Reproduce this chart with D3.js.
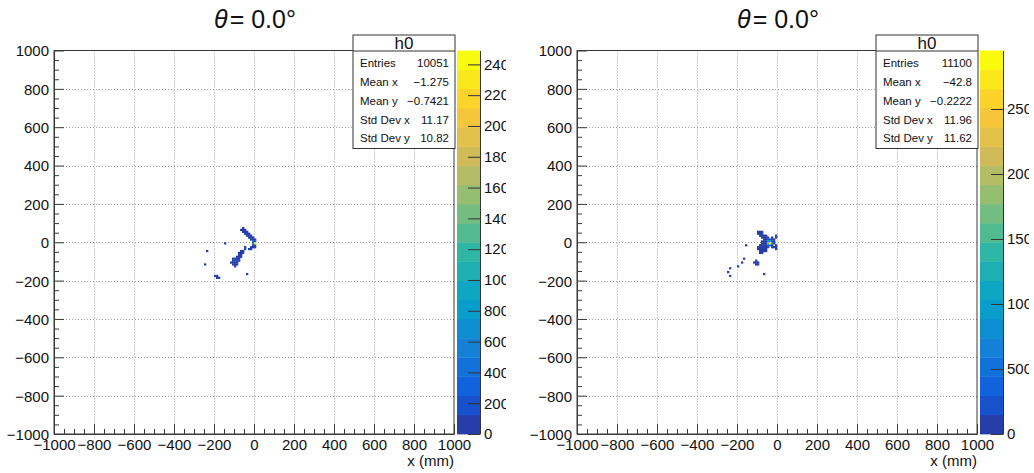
<!DOCTYPE html>
<html>
<head>
<meta charset="utf-8">
<script src="https://cdn.jsdelivr.net/npm/d3@7"></script>
<style>
  html, body { margin: 0; padding: 0; background: #fff; }
  svg { display: block; font-family: "Liberation Sans", Arial, Helvetica, sans-serif; }
</style>
</head>
<body>
<svg id="chart" width="1034" height="473"></svg>
<script>
// ---- histogram contents (10 mm bins, lower-left bin edges in mm) ----
const leftBinX = [-70,-60,-60,-50,-50,-40,-40,-30,-20,-30,-20,-10,-10,-10,0,0,-10,-10,0,-10,-20,-20,-30,-50,-50,
  -60,-60,-70,-70,-80,-70,-80,-90,-80,-90,-100,-110,-100,-90,-80,-110,-100,-90,-110,-100,-100,
  -240,-250,-150,-40,-200,-190,-190,-180,
  -60,-50,-40,-30,-20,0,0,-70,-80,-90,-120,-110];
const leftBinY = [60,60,50,50,40,40,30,30,20,20,10,10,20,0,0,-10,-10,-20,-20,-30,-30,-40,-40,-40,-30,
  -50,-60,-60,-70,-70,-80,-80,-80,-90,-90,-90,-100,-100,-100,-100,-110,-110,-110,-120,-120,-130,
  -50,-120,-10,-170,-180,-180,-190,-190,
  70,60,50,40,30,10,-30,-50,-60,-120,-110,-90];
const leftBinCount = [40,60,50,30,20,40,30,50,60,30,80,90,40,300,150,2490,400,80,60,50,40,30,20,180,60,
  40,60,30,50,40,30,70,50,90,110,60,40,150,80,40,50,70,40,40,50,30,
  20,20,20,20,30,40,50,30,
  20,30,20,30,40,60,30,20,30,20,20,30];

const rightBinX = [-100,-90,-100,-90,-80,-90,-80,-70,-10,-80,-70,-60,-50,-10,-70,-60,-50,-40,-30,-20,
  -70,-60,-50,-40,-30,-20,-70,-60,-50,-40,-30,-20,-80,-70,-60,-50,-40,-30,-10,
  -90,-80,-70,-60,-50,-10,-90,-80,-70,-60,-10,-90,-80,-70,-90,-80,
  -160,-170,-180,-200,-240,-250,-240,-120,-110,-100,-110,-100,-110,-70,
  -80,-60,-30,-80,-80,-90,-100,-100,-60,-20,-30];
const rightBinY = [50,50,40,40,40,30,30,30,30,20,20,20,20,20,10,10,10,10,10,10,
  0,0,0,0,0,0,-10,-10,-10,-10,-10,-10,-20,-20,-20,-20,-20,-20,-20,
  -30,-30,-30,-30,-30,-30,-40,-40,-40,-40,-40,-50,-50,-50,-60,-60,
  -20,-90,-110,-130,-140,-160,-180,-110,-110,-110,-120,-120,-100,-170,
  50,30,20,0,-10,-20,-40,-30,-50,-30,-30];
const rightBinCount = [40,60,50,90,40,60,80,40,40,70,110,90,60,30,60,120,150,200,90,40,
  50,100,1000,800,160,40,40,90,1700,2950,600,60,40,70,120,300,200,80,40,
  40,90,110,60,40,40,30,70,90,40,30,40,60,30,30,40,
  20,20,20,20,20,20,20,40,60,50,30,40,20,20,
  30,50,60,30,40,30,20,30,30,40,50];

// ---- axis ticks and text ----
const axisTicks = [-1000,-800,-600,-400,-200,0,200,400,600,800,1000];
const leftZTicks = [0,200,400,600,800,1000,1200,1400,1600,1800,2000,2200,2400];
const rightZTicks = [0,500,1000,1500,2000,2500];
const titleSymbol = "θ";
const titleRest = "= 0.0°";
const xTitle = "x (mm)";
const histName = "h0";
const statLabels = ["Entries","Mean x","Mean y","Std Dev x","Std Dev y"];
const leftStats = ["10051","−1.275","−0.7421","11.17","10.82"];
const rightStats = ["11100","−42.8","−0.2222","11.96","11.62"];

// ---- kBird palette (ROOT), 255 colours, 20 contour levels ----
const palStops = [0.0,0.125,0.25,0.375,0.5,0.625,0.75,0.875,1.0];
const palRed   = [0.2082,0.0592,0.0780,0.0232,0.1802,0.5301,0.8186,0.9956,0.9764];
const palGreen = [0.1664,0.3599,0.5041,0.6419,0.7178,0.7492,0.7328,0.7862,0.9832];
const palBlue  = [0.5293,0.8684,0.8385,0.7914,0.6425,0.4662,0.3499,0.1968,0.0539];
const nColors = 255, nLevels = 20, binWidth = 10;

const palScale = d3.scaleLinear()
  .domain(palStops)
  .range(palStops.map((s, i) => d3.rgb(palRed[i]*255, palGreen[i]*255, palBlue[i]*255)))
  .interpolate(d3.interpolateRgb);
const levelColor = i => palScale(Math.floor((i + 0.99) * nColors / nLevels) / (nColors - 1));

const svg = d3.select("#chart");
const defs = svg.append("defs");

// frame geometry of one pad
const F = { x0: 54, x1: 454, y0: 50.5, y1: 434 };
const CB = { x0: 457, x1: 480 };

function drawPad(offset, bx, by, bc, zTicks, stats, id) {
  const g = svg.append("g").attr("transform", `translate(${offset},0)`);
  const x = d3.scaleLinear().domain([-1000, 1000]).range([F.x0, F.x1]);
  const y = d3.scaleLinear().domain([-1000, 1000]).range([F.y1, F.y0]);
  const zmax = d3.max(bc);
  const z = d3.scaleLinear().domain([0, zmax]).range([F.y1, F.y0]);
  const level = c => Math.min(nLevels - 1, Math.floor(c / zmax * nLevels));

  // grid
  const inner = axisTicks.filter(t => t > -1000 && t < 1000);
  const grid = g.append("g").attr("stroke", "#9a9a9a").attr("stroke-width", 1)
    .attr("stroke-dasharray", "1,2");
  grid.selectAll("line.v").data(inner).join("line").attr("class", "v")
    .attr("x1", d => Math.round(x(d)) + 0.5).attr("x2", d => Math.round(x(d)) + 0.5)
    .attr("y1", F.y0).attr("y2", F.y1);
  grid.selectAll("line.h").data(inner).join("line").attr("class", "h")
    .attr("y1", d => Math.round(y(d)) + 0.5).attr("y2", d => Math.round(y(d)) + 0.5)
    .attr("x1", F.x0).attr("x2", F.x1);

  // histogram cells, low counts first so the peak stays on top
  const cells = bx.map((v, i) => ({ x: v, y: by[i], c: bc[i] })).sort((a, b) => a.c - b.c);
  g.append("g").selectAll("rect").data(cells).join("rect")
    .attr("x", d => x(d.x)).attr("width", d => x(d.x + binWidth) - x(d.x) + 0.3)
    .attr("y", d => y(d.y + binWidth)).attr("height", d => y(d.y) - y(d.y + binWidth) + 0.3)
    .attr("fill", d => levelColor(level(d.c)));

  // frame
  g.append("rect").attr("x", F.x0).attr("y", F.y0)
    .attr("width", F.x1 - F.x0).attr("height", F.y1 - F.y0)
    .attr("fill", "none").attr("stroke", "#3a3a3a").attr("stroke-width", 1);

  // axes: major + minor ticks pointing inwards
  const minor = d3.range(-1000, 1001, 50).filter(t => t % 200 !== 0);
  const xAxis = g.append("g").attr("transform", `translate(0,${F.y1})`)
    .call(d3.axisBottom(x).tickValues(axisTicks).tickSize(-10).tickSizeOuter(0).tickPadding(5)
      .tickFormat(d3.format("d")));
  g.append("g").attr("transform", `translate(0,${F.y1})`)
    .call(d3.axisBottom(x).tickValues(minor).tickSize(-5).tickSizeOuter(0).tickFormat(""))
    .select(".domain").remove();
  const yAxis = g.append("g").attr("transform", `translate(${F.x0},0)`)
    .call(d3.axisLeft(y).tickValues(axisTicks).tickSize(-10).tickSizeOuter(0).tickPadding(5)
      .tickFormat(d3.format("d")));
  g.append("g").attr("transform", `translate(${F.x0},0)`)
    .call(d3.axisLeft(y).tickValues(minor).tickSize(-5).tickSizeOuter(0).tickFormat(""))
    .select(".domain").remove();
  g.selectAll(".tick line").attr("stroke", "#3a3a3a");
  g.selectAll(".domain").attr("stroke", "#3a3a3a");
  [xAxis, yAxis].forEach(a => a.selectAll("text")
    .attr("fill", "#111").style("font-size", "15px")
    .style("font-family", "'Liberation Sans', Arial, sans-serif"));
  yAxis.selectAll("text").attr("dy", "0.36em");

  // x title
  g.append("text").attr("x", F.x1).attr("y", 466).attr("text-anchor", "end")
    .style("font-size", "15px").attr("fill", "#111").text(xTitle);

  // title
  const t = g.append("text").attr("x", 255).attr("y", 28).attr("text-anchor", "middle")
    .style("font-size", "25px").attr("fill", "#111");
  t.append("tspan").style("font-style", "italic").text(titleSymbol);
  t.append("tspan").attr("dx", 2).text(titleRest);

  // colour bar
  const bands = d3.range(nLevels);
  g.append("g").selectAll("rect").data(bands).join("rect")
    .attr("x", CB.x0).attr("width", CB.x1 - CB.x0)
    .attr("y", d => z(zmax * (d + 1) / nLevels))
    .attr("height", d => z(zmax * d / nLevels) - z(zmax * (d + 1) / nLevels) + 0.4)
    .attr("fill", d => levelColor(d));
  // labels are cut at the pad's right edge (local coordinates of the axis group)
  defs.append("clipPath").attr("id", "clip" + id)
    .append("rect").attr("x", -40).attr("y", 0).attr("width", 66).attr("height", 473);
  const zAxis = g.append("g").attr("transform", `translate(${CB.x1},0)`)
    .attr("clip-path", `url(#clip${id})`)
    .call(d3.axisRight(z).tickValues(zTicks).tickSize(-12).tickSizeOuter(0).tickPadding(4)
      .tickFormat(d3.format("d")));
  zAxis.selectAll(".tick line").attr("stroke", "#333");
  zAxis.select(".domain").attr("stroke", "#333");
  zAxis.selectAll("text").attr("fill", "#111").style("font-size", "15px")
    .style("font-family", "'Liberation Sans', Arial, sans-serif");

  // statistics box
  const sb = { x0: 353, x1: 455, y0: 35, ysep: 51, y1: 148.5 };
  g.append("rect").attr("x", sb.x0).attr("y", sb.y0)
    .attr("width", sb.x1 - sb.x0).attr("height", sb.y1 - sb.y0)
    .attr("fill", "#fff").attr("stroke", "#333").attr("stroke-width", 1);
  g.append("line").attr("x1", sb.x0).attr("x2", sb.x1).attr("y1", sb.ysep).attr("y2", sb.ysep)
    .attr("stroke", "#333");
  g.append("text").attr("x", (sb.x0 + sb.x1) / 2).attr("y", 49).attr("text-anchor", "middle")
    .style("font-size", "17px").attr("fill", "#111").text(histName);
  const rows = g.append("g").style("font-size", "11.5px").attr("fill", "#111");
  rows.selectAll("text.lab").data(statLabels).join("text").attr("class", "lab")
    .attr("x", 360).attr("y", (d, i) => 63.3 + i * 18.75).attr("dy", "0.36em").text(d => d);
  rows.selectAll("text.val").data(stats).join("text").attr("class", "val")
    .attr("x", 449).attr("y", (d, i) => 63.3 + i * 18.75).attr("dy", "0.36em")
    .attr("text-anchor", "end").text(d => d);
}

drawPad(0, leftBinX, leftBinY, leftBinCount, leftZTicks, leftStats, "L");
drawPad(523, rightBinX, rightBinY, rightBinCount, rightZTicks, rightStats, "R");
</script>
</body>
</html>
